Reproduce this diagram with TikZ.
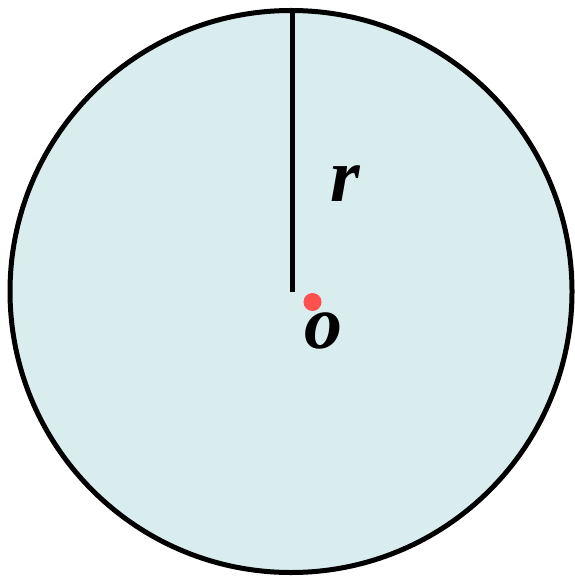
\documentclass[tikz,border=0pt]{standalone}
\usepackage{fontspec}
\setmainfont{Liberation Serif}
\definecolor{discfill}{RGB}{218,237,238}
\definecolor{dotred}{RGB}{255,80,80}
\tikzset{lbl/.style={font=\fontsize{76}{76}\selectfont\bfseries\itshape, inner sep=0pt}}
\begin{document}
\begin{tikzpicture}[x=1pt,y=-1pt]
\useasboundingbox (0,0) rectangle (574,577);
\node[circle, draw=black, line width=5pt, fill=discfill, minimum size=562pt, inner sep=0pt] (disc) at (291,291.5) {};
\coordinate (center) at (292,292);
\draw[line width=5pt] (center) -- (center |- disc.north);
\node[circle, fill=dotred, minimum size=18pt, inner sep=0pt] (o) at (312.5,302) {};
\node[lbl] (rl) at (345,184) {r};
\node[lbl] (ol) at (323,331) {o};
\end{tikzpicture}
\end{document}
